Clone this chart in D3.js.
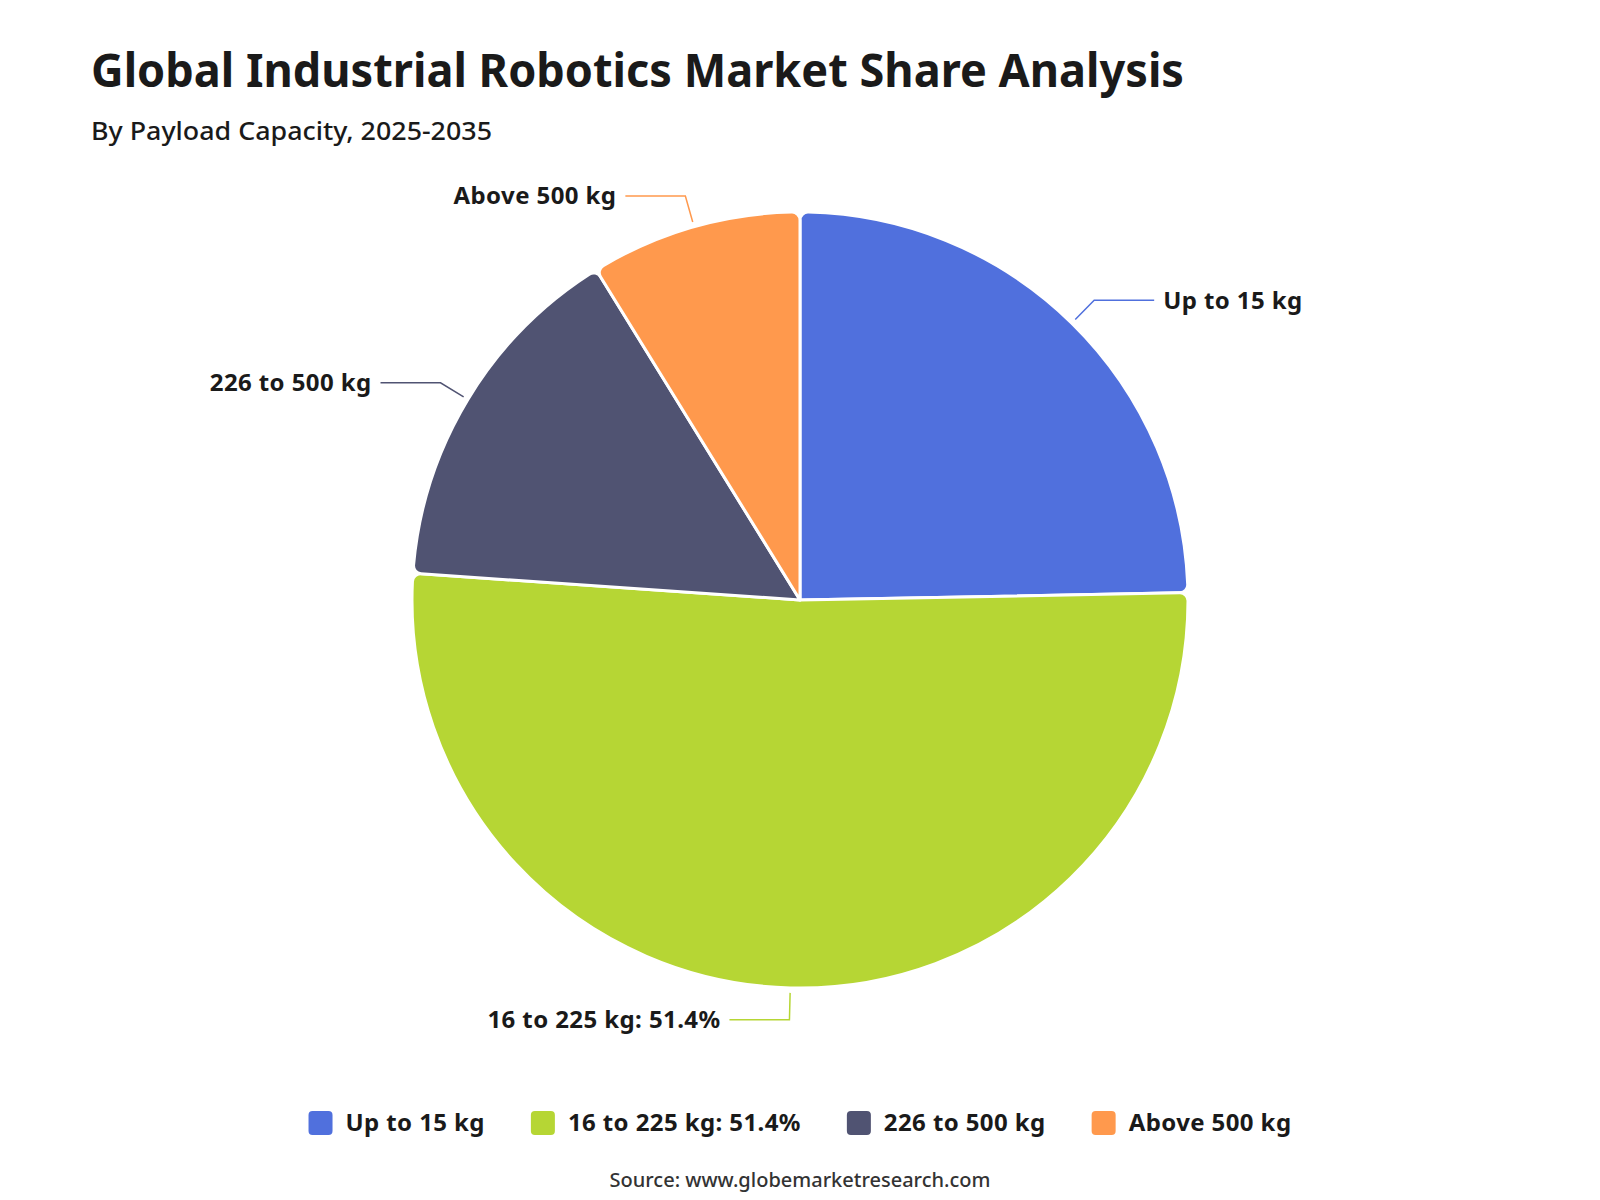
<!DOCTYPE html>
<html>
<head>
<meta charset="utf-8">
<script src="https://cdn.jsdelivr.net/npm/d3@7"></script>
<style>
  body { margin: 0; background: #fff; }
  svg text { font-family: "Noto Sans", "Open Sans", sans-serif; }
</style>
</head>
<body>
<svg id="chart"></svg>
<script>
var width = 1600, height = 1200;

var categories = ["Up to 15 kg", "16 to 225 kg", "226 to 500 kg", "Above 500 kg"];
var shares = [24.7, 51.4, 15.1, 8.8];
var showShare = [false, true, false, false];
var colors = ["#5070dd", "#b6d634", "#505372", "#ff994d"];

var data = categories.map(function(c, i) {
  return {name: c, value: shares[i], label: showShare[i] ? c + ": " + shares[i] + "%" : c};
});

var svg = d3.select("#chart")
  .attr("width", width)
  .attr("height", height);

// titles
svg.append("text")
  .attr("x", 91).attr("y", 87)
  .attr("font-size", 47).attr("font-weight", 700)
  .attr("fill", "#1a1a1a")
  .attr("textLength", 1093).attr("lengthAdjust", "spacingAndGlyphs")
  .text("Global Industrial Robotics Market Share Analysis");

svg.append("text")
  .attr("x", 91).attr("y", 140)
  .attr("font-size", 25).attr("font-weight", 500)
  .attr("fill", "#1a1a1a")
  .attr("textLength", 401).attr("lengthAdjust", "spacingAndGlyphs")
  .text("By Payload Capacity, 2025-2035");

// pie
var cx = 800, cy = 600, r = 388;

var pie = d3.pie().sort(null).value(function(d) { return d.value; });
var arc = d3.arc().innerRadius(0).outerRadius(r).cornerRadius(8);

var g = svg.append("g").attr("transform", "translate(" + cx + "," + cy + ")");
var arcs = pie(data);

g.selectAll(".slice")
  .data(arcs)
  .enter().append("path")
  .attr("class", "slice")
  .attr("d", arc)
  .attr("fill", function(d, i) { return colors[i]; })
  .attr("stroke", "#fff")
  .attr("stroke-width", 3)
  .attr("stroke-linejoin", "round");

// labels with leader lines
function pt(a, rr) { return [Math.sin(a) * rr, -Math.cos(a) * rr]; }

arcs.forEach(function(d, i) {
  var a = (d.startAngle + d.endAngle) / 2;
  var p0 = pt(a, r + 5), p1 = pt(a, r + 32);
  var dir = Math.sin(a) >= 0 ? 1 : -1;
  var p2 = [p1[0] + dir * 60, p1[1]];
  g.append("polyline")
    .attr("points", [p0, p1, p2].map(function(p) { return p.join(","); }).join(" "))
    .attr("fill", "none")
    .attr("stroke", colors[i])
    .attr("stroke-width", 1.5);
  g.append("text")
    .attr("x", p2[0] + dir * 9)
    .attr("y", p2[1])
    .attr("dy", "0.35em")
    .attr("text-anchor", dir > 0 ? "start" : "end")
    .attr("font-size", 24).attr("font-weight", 700)
    .attr("letter-spacing", 0.4)
    .attr("fill", "#1a1a1a")
    .text(d.data.label);
});

// legend
var legend = svg.append("g");
var items = legend.selectAll(".item")
  .data(data)
  .enter().append("g").attr("class", "item");

items.append("rect")
  .attr("width", 24).attr("height", 24).attr("rx", 4)
  .attr("y", -12)
  .attr("fill", function(d, i) { return colors[i]; });

items.append("text")
  .attr("x", 37).attr("dy", "0.35em")
  .attr("font-size", 24).attr("font-weight", 700)
  .attr("letter-spacing", 0.4)
  .attr("fill", "#1a1a1a")
  .text(function(d) { return d.label; });

var gap = 46, x = 0, offsets = [];
items.each(function() {
  var w = 37 + d3.select(this).select("text").node().getComputedTextLength();
  offsets.push(x);
  x += w + gap;
});
var total = x - gap;
var startX = cx - total / 2;
items.attr("transform", function(d, i) { return "translate(" + (startX + offsets[i]) + ",1123)"; });

// source
svg.append("text")
  .attr("x", 800).attr("y", 1187)
  .attr("text-anchor", "middle")
  .attr("font-size", 20).attr("font-weight", 500)
  .attr("fill", "#333")
  .text("Source: www.globemarketresearch.com");
</script>
</body>
</html>
